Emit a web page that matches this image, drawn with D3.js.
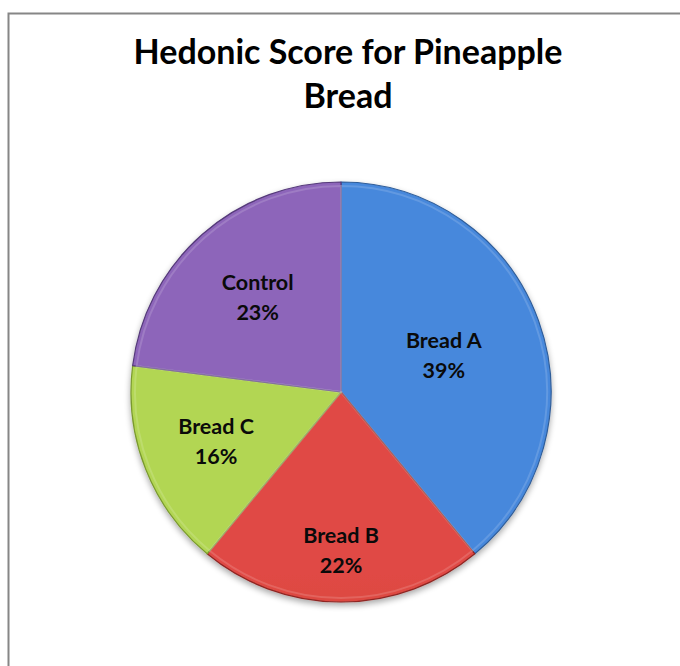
<!DOCTYPE html>
<html>
<head>
<meta charset="utf-8">
<script src="https://cdn.jsdelivr.net/npm/d3@7"></script>
<style>
  html, body { margin: 0; padding: 0; background: #fff; }
  svg { display: block; }
</style>
</head>
<body>
<svg id="chart" width="680" height="666"></svg>
<script>
// ---- data ----
const categories = ["Bread A", "Bread B", "Bread C", "Control"];
const values = [39, 22, 16, 23];
const titleLines = ["Hedonic Score for Pineapple", "Bread"];

// ---- styling / layout (not data) ----
const topColors = ["#4688dc", "#e04a44", "#b2d652", "#8d65ba"];
const bottomColors = ["#386aab", "#ad2f2c", "#8eb039", "#654690"];
const edgeColors = ["#2f5d99", "#8f2522", "#7a9a2e", "#553a7a"];
const labelRadiusFrac = [0.52, 0.75, 0.64, 0.60];

const W = 680, H = 666;
const cx = 341, cy = 392, R = 210;
const FONT = "Lato, 'Open Sans', 'Liberation Sans', sans-serif";

const svg = d3.select("#chart");

// frame
svg.append("rect")
  .attr("x", 8.5).attr("y", 13.5)
  .attr("width", 700).attr("height", 700)
  .attr("fill", "#fff")
  .attr("stroke", "#868686").attr("stroke-width", 2);

// title
const title = svg.append("text")
  .attr("text-anchor", "middle")
  .attr("font-family", FONT)
  .attr("font-weight", "bold")
  .attr("font-size", 34)
  .attr("fill", "#000");
title.selectAll("tspan").data(titleLines).join("tspan")
  .attr("x", 348)
  .attr("y", (d, i) => 64 + i * 44)
  .text(d => d);

const defs = svg.append("defs");
// gradients
categories.forEach((c, i) => {
  const g = defs.append("linearGradient")
    .attr("id", "grad" + i)
    .attr("gradientUnits", "userSpaceOnUse")
    .attr("x1", cx).attr("y1", cy - R)
    .attr("x2", cx).attr("y2", cy + R);
  g.append("stop").attr("offset", "0%").attr("stop-color", topColors[i]);
  g.append("stop").attr("offset", "100%").attr("stop-color", bottomColors[i]);
});
// shadow
const f = defs.append("filter").attr("id", "shadow")
  .attr("x", "-20%").attr("y", "-20%").attr("width", "140%").attr("height", "140%");
f.append("feGaussianBlur").attr("in", "SourceAlpha").attr("stdDeviation", 3).attr("result", "b");
f.append("feOffset").attr("in", "b").attr("dx", 0).attr("dy", 3).attr("result", "o");
f.append("feComponentTransfer").attr("in", "o").attr("result", "s")
  .append("feFuncA").attr("type", "linear").attr("slope", 0.35);
const m = f.append("feMerge");
m.append("feMergeNode").attr("in", "s");
m.append("feMergeNode").attr("in", "SourceGraphic");

const data = categories.map((c, i) => ({ name: c, value: values[i], i }));
const pie = d3.pie().sort(null).value(d => d.value);
const arcs = pie(data);
const total = d3.sum(values);

const arc = d3.arc().innerRadius(0).outerRadius(R);
const arcInner = d3.arc().innerRadius(0).outerRadius(R - 4);

const g = svg.append("g").attr("transform", `translate(${cx},${cy})`);

const slices = g.append("g").attr("filter", "url(#shadow)");
slices.selectAll("path.slice").data(arcs).join("path")
  .attr("class", "slice")
  .attr("d", arc)
  .attr("fill", d => `url(#grad${d.data.i})`)
  .attr("stroke", d => edgeColors[d.data.i])
  .attr("stroke-width", 1.2)
  .attr("stroke-linejoin", "round");

// subtle bevel highlight
g.selectAll("path.bevel").data(arcs).join("path")
  .attr("class", "bevel")
  .attr("d", arcInner)
  .attr("fill", "none")
  .attr("stroke", "rgba(255,255,255,0.15)")
  .attr("stroke-width", 2);

// labels
const labels = g.selectAll("text.lbl").data(arcs).join("text")
  .attr("class", "lbl")
  .attr("text-anchor", "middle")
  .attr("font-family", FONT)
  .attr("font-weight", "bold")
  .attr("font-size", 21.5)
  .attr("fill", "#0a0a0a")
  .attr("transform", d => {
    const a = (d.startAngle + d.endAngle) / 2;
    const r = R * labelRadiusFrac[d.data.i];
    return `translate(${r * Math.sin(a)},${-r * Math.cos(a)})`;
  });
labels.append("tspan").attr("x", 0).attr("y", -7).text(d => d.data.name);
labels.append("tspan").attr("x", 0).attr("y", 23)
  .text(d => Math.round(d.data.value / total * 100) + "%");
</script>
</body>
</html>
